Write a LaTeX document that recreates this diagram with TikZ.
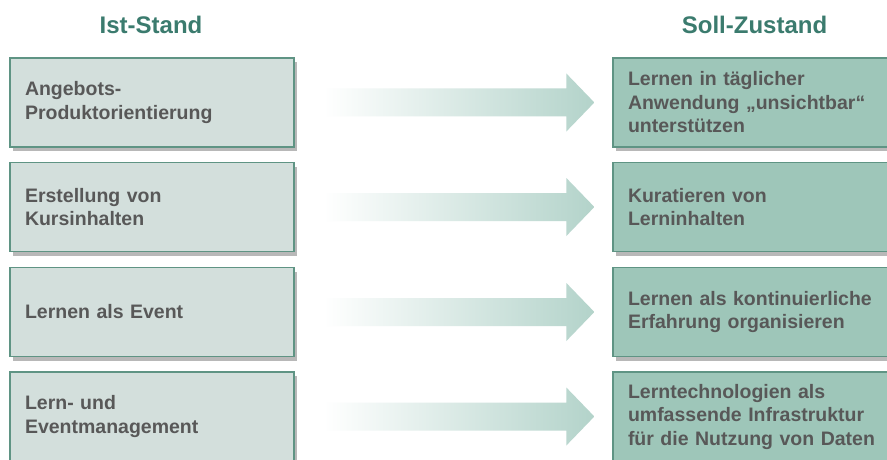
\documentclass[tikz,border=0pt]{standalone}
\usepackage{fontspec}
\setmainfont{Liberation Sans}
\usetikzlibrary{calc,shadows}

\definecolor{titelgruen}{HTML}{3B7B6E}
\definecolor{istfuell}{HTML}{D3DFDC}
\definecolor{sollfuell}{HTML}{9EC6B9}
\definecolor{randgruen}{HTML}{5F9484}
\definecolor{schriftgrau}{HTML}{585858}
\definecolor{pfeilgruen}{HTML}{B3D3CA}

\tikzset{
  titel/.style={font=\bfseries\fontsize{24}{28}\selectfont, text=titelgruen},
  kasten/.style={draw=randgruen, line width=1.3pt, text=schriftgrau,
    font=\bfseries\fontsize{19.5}{23.5}\selectfont, align=left,
    text width=254pt, inner xsep=15pt, minimum height=89pt,
    drop shadow={shadow xshift=3pt, shadow yshift=-4pt, fill=black!55, opacity=.5}},
  istkasten/.style={kasten, fill=istfuell},
  sollkasten/.style={kasten, fill=sollfuell},
  pfeil/.style={left color=white, right color=pfeilgruen, draw=none}
}

\begin{document}
\begin{tikzpicture}[x=1pt,y=1pt]
	\clip (0,0) rectangle (887,459);
	\fill[white] (0,0) rectangle (887,459);

	\node[titel] at (151,434) (ist) {Ist-Stand};
	\node[titel] at (754.5,434) (soll) {Soll-Zustand};

	\node[istkasten] at (152,356.5) (ist1) {Angebots-\\Produktorientierung};
	\node[istkasten] at (152,252) (ist2) {Erstellung von\\Kursinhalten};
	\node[istkasten] at (152,147) (ist3) {Lernen als Event};
	\node[istkasten] at (152,42.5) (ist4) {Lern- und\\Eventmanagement};

	\node[sollkasten] at (755,356.5) (soll1) {Lernen in täglicher\\Anwendung „unsichtbar“\\unterstützen};
	\node[sollkasten] at (755,252) (soll2) {Kuratieren von\\Lerninhalten};
	\node[sollkasten] at (755,147) (soll3) {Lernen als kontinuierliche\\Erfahrung organisieren};
	\node[sollkasten] at (755,42.5) (soll4) {Lerntechnologien als\\umfassende Infrastruktur\\für die Nutzung von Daten};

	% Pfeile
	\shade[pfeil] ($(ist1.east)+(29,-14)$) -- ($(soll1.west)+(-46,-14)$) -- ($(soll1.west)+(-46,-29)$) -- ($(soll1.west)+(-18,0)$) -- ($(soll1.west)+(-46,29)$) -- ($(soll1.west)+(-46,14)$) -- ($(ist1.east)+(29,14)$) -- cycle;
	\shade[pfeil] ($(ist2.east)+(29,-14)$) -- ($(soll2.west)+(-46,-14)$) -- ($(soll2.west)+(-46,-29)$) -- ($(soll2.west)+(-18,0)$) -- ($(soll2.west)+(-46,29)$) -- ($(soll2.west)+(-46,14)$) -- ($(ist2.east)+(29,14)$) -- cycle;
	\shade[pfeil] ($(ist3.east)+(29,-14)$) -- ($(soll3.west)+(-46,-14)$) -- ($(soll3.west)+(-46,-29)$) -- ($(soll3.west)+(-18,0)$) -- ($(soll3.west)+(-46,29)$) -- ($(soll3.west)+(-46,14)$) -- ($(ist3.east)+(29,14)$) -- cycle;
	\shade[pfeil] ($(ist4.east)+(29,-14)$) -- ($(soll4.west)+(-46,-14)$) -- ($(soll4.west)+(-46,-29)$) -- ($(soll4.west)+(-18,0)$) -- ($(soll4.west)+(-46,29)$) -- ($(soll4.west)+(-46,14)$) -- ($(ist4.east)+(29,14)$) -- cycle;
\end{tikzpicture}
\end{document}
